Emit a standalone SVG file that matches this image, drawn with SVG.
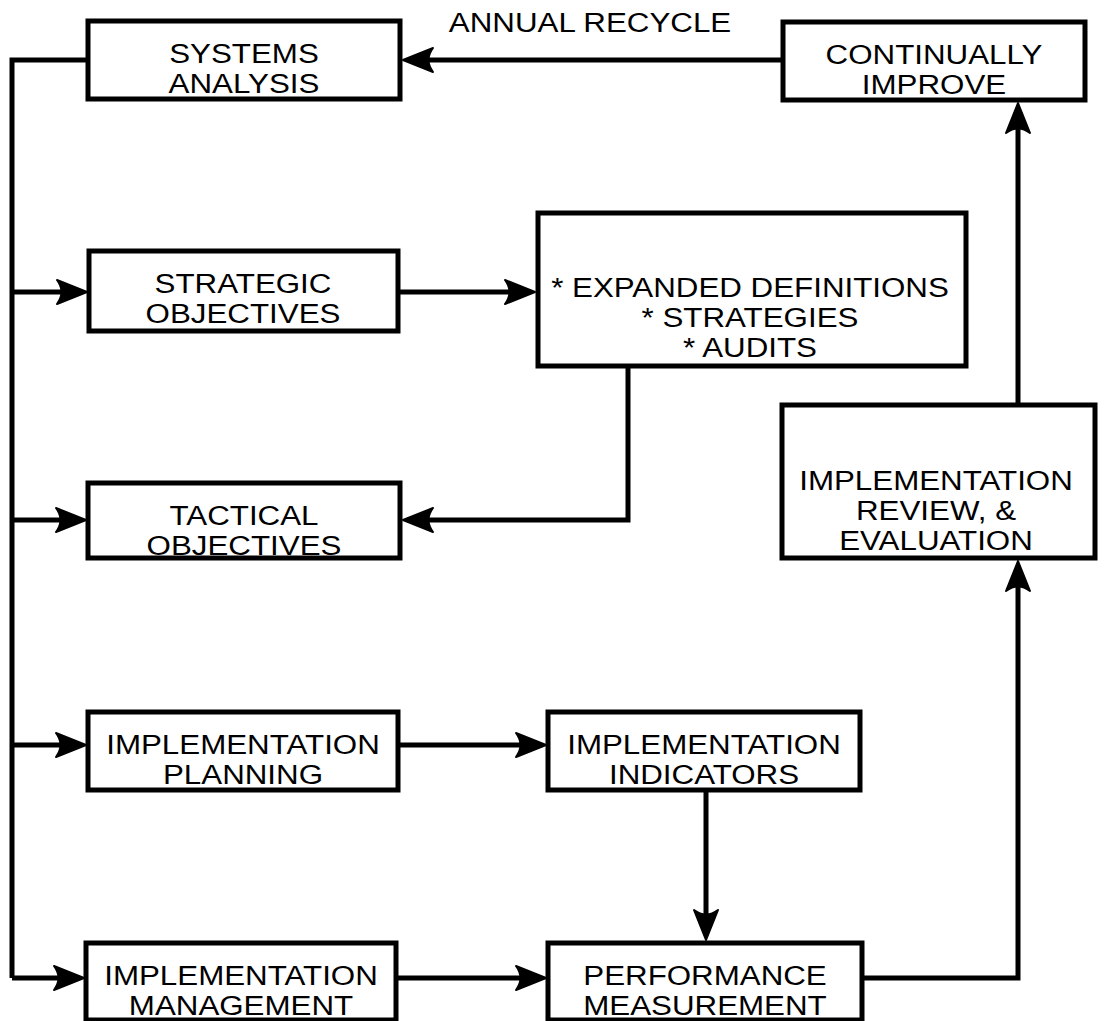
<svg xmlns="http://www.w3.org/2000/svg" xmlns:xlink="http://www.w3.org/1999/xlink" width="1107" height="1021" viewBox="0 0 1107 1021">
<style>
.box{fill:#fff;stroke:#000;stroke-width:5}
.t{font-family:"Liberation Sans",Arial,sans-serif;font-size:27px;fill:#000;text-anchor:middle}
.ln{fill:none;stroke:#000;stroke-width:5;stroke-linejoin:miter}
.ah{fill:#000;stroke:#000;stroke-width:2;stroke-linejoin:round}
</style>
<defs>
<path id="ah" d="M0,0 L-30,-12 Q-21,0 -30,12 Z"/>
</defs>
<rect width="1107" height="1021" fill="#fff"/>
<text class="t" transform="translate(590,32) scale(1.16,1)">ANNUAL RECYCLE</text>
<g id="connectors">
<path class="ln" d="M783,60 H420"/>
<use class="ah" href="#ah" transform="translate(403,60) rotate(180)"/>
<path class="ln" d="M88,60 H12 V978"/>
<path class="ln" d="M12,292 H70"/>
<use class="ah" href="#ah" transform="translate(87,292)"/>
<path class="ln" d="M400,292 H518"/>
<use class="ah" href="#ah" transform="translate(535,292)"/>
<path class="ln" d="M628,366 V520 H420"/>
<use class="ah" href="#ah" transform="translate(403,520) rotate(180)"/>
<path class="ln" d="M12,520 H70"/>
<use class="ah" href="#ah" transform="translate(86,520)"/>
<path class="ln" d="M12,745 H70"/>
<use class="ah" href="#ah" transform="translate(86,745)"/>
<path class="ln" d="M398,745 H530"/>
<use class="ah" href="#ah" transform="translate(546,745)"/>
<path class="ln" d="M706,790 V922"/>
<use class="ah" href="#ah" transform="translate(706,940) rotate(90)"/>
<path class="ln" d="M12,978 H68"/>
<use class="ah" href="#ah" transform="translate(84,978)"/>
<path class="ln" d="M396,978 H530"/>
<use class="ah" href="#ah" transform="translate(546,978)"/>
<path class="ln" d="M862,978 H1018 V578"/>
<use class="ah" href="#ah" transform="translate(1018,561) rotate(-90)"/>
<path class="ln" d="M1018,404 V120"/>
<use class="ah" href="#ah" transform="translate(1018,103) rotate(-90)"/>
</g>
<g id="systems-analysis">
<rect class="box" x="88" y="21" width="312" height="78"/>
<text class="t" transform="translate(244,63) scale(1.16,1)">SYSTEMS</text>
<text class="t" transform="translate(244,93) scale(1.16,1)">ANALYSIS</text>
</g>
<g id="continually-improve">
<rect class="box" x="783" y="22" width="302" height="78"/>
<text class="t" transform="translate(934,64) scale(1.16,1)">CONTINUALLY</text>
<text class="t" transform="translate(934,94) scale(1.16,1)">IMPROVE</text>
</g>
<g id="strategic-objectives">
<rect class="box" x="89" y="251" width="309" height="80"/>
<text class="t" transform="translate(243,293) scale(1.16,1)">STRATEGIC</text>
<text class="t" transform="translate(243,323) scale(1.16,1)">OBJECTIVES</text>
</g>
<g id="expanded-definitions">
<rect class="box" x="538" y="213" width="428" height="153"/>
<text class="t" transform="translate(750,297) scale(1.16,1)">* EXPANDED DEFINITIONS</text>
<text class="t" transform="translate(750,327) scale(1.16,1)">* STRATEGIES</text>
<text class="t" transform="translate(750,357) scale(1.16,1)">* AUDITS</text>
</g>
<g id="tactical-objectives">
<rect class="box" x="88" y="483" width="312" height="75"/>
<text class="t" transform="translate(244,525) scale(1.16,1)">TACTICAL</text>
<text class="t" transform="translate(244,555) scale(1.16,1)">OBJECTIVES</text>
</g>
<g id="implementation-review">
<rect class="box" x="782" y="405" width="313" height="153"/>
<text class="t" transform="translate(936,490) scale(1.16,1)">IMPLEMENTATION</text>
<text class="t" transform="translate(936,520) scale(1.16,1)">REVIEW, &amp;</text>
<text class="t" transform="translate(936,550) scale(1.16,1)">EVALUATION</text>
</g>
<g id="implementation-planning">
<rect class="box" x="88" y="712" width="310" height="78"/>
<text class="t" transform="translate(243,754) scale(1.16,1)">IMPLEMENTATION</text>
<text class="t" transform="translate(243,784) scale(1.16,1)">PLANNING</text>
</g>
<g id="implementation-indicators">
<rect class="box" x="548" y="712" width="312" height="78"/>
<text class="t" transform="translate(704,754) scale(1.16,1)">IMPLEMENTATION</text>
<text class="t" transform="translate(704,784) scale(1.16,1)">INDICATORS</text>
</g>
<g id="implementation-management">
<rect class="box" x="86" y="943" width="310" height="77"/>
<text class="t" transform="translate(241,985) scale(1.16,1)">IMPLEMENTATION</text>
<text class="t" transform="translate(241,1015) scale(1.16,1)">MANAGEMENT</text>
</g>
<g id="performance-measurement">
<rect class="box" x="548" y="943" width="314" height="77"/>
<text class="t" transform="translate(705,985) scale(1.16,1)">PERFORMANCE</text>
<text class="t" transform="translate(705,1015) scale(1.16,1)">MEASUREMENT</text>
</g>
</svg>
